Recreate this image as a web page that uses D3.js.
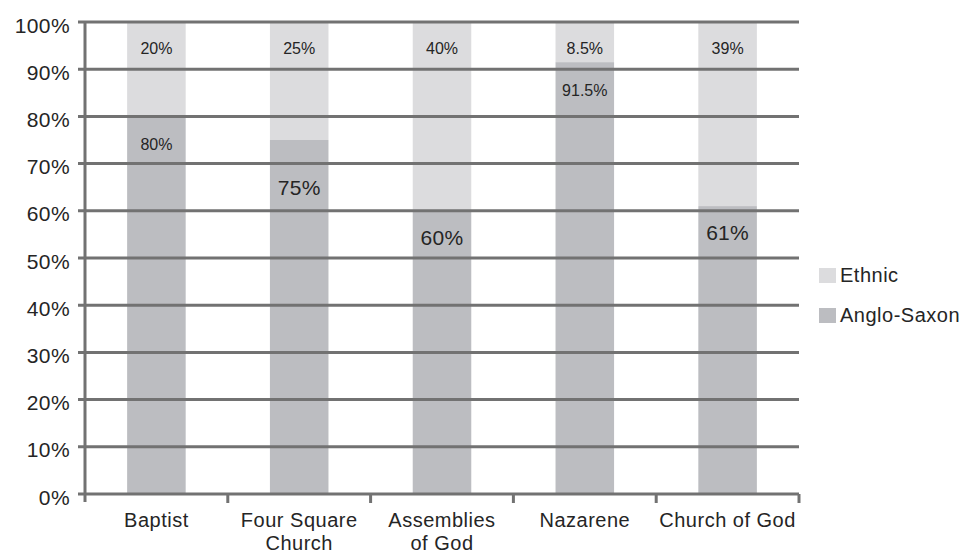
<!DOCTYPE html>
<html>
<head>
<meta charset="utf-8">
<script src="https://cdn.jsdelivr.net/npm/d3@7"></script>
<style>
  body { margin: 0; background: #fff; }
  svg text { font-family: "Liberation Sans", Arial, sans-serif; fill: #252525; }
</style>
</head>
<body>
<script>
const categories = ['Baptist', 'Four Square\nChurch', 'Assemblies\nof God', 'Nazarene', 'Church of God'];
const angloSaxon = [80, 75, 60, 91.5, 61];
const ethnic = [20, 25, 40, 8.5, 39];
const angloLabels = ['80%', '75%', '60%', '91.5%', '61%'];
const ethnicLabels = ['20%', '25%', '40%', '8.5%', '39%'];
const yTicks = [0, 10, 20, 30, 40, 50, 60, 70, 80, 90, 100];
const seriesNames = ['Ethnic', 'Anglo-Saxon'];

const width = 961;
const height = 554;
const plotLeft = 85, plotRight = 799, plotTop = 22, plotBottom = 494;
const colors = { 'Ethnic': '#dcdcde', 'Anglo-Saxon': '#bcbdc1' };
const gridColor = '#727272';

const svg = d3.select('body')
  .append('svg')
  .attr('width', width)
  .attr('height', height);

const xScale = d3.scaleBand()
  .domain(categories)
  .range([plotLeft, plotRight])
  .paddingInner(0.59)
  .paddingOuter(0.295);

const yScale = d3.scaleLinear()
  .domain([0, 100])
  .range([plotBottom, plotTop]);

// stacked bars
const rows = categories.map((c, i) => ({ cat: c, anglo: angloSaxon[i], ethnic: ethnic[i] }));
const stack = d3.stack().keys(['anglo', 'ethnic'])(rows);

svg.append('g')
  .selectAll('g')
  .data(stack)
  .enter()
  .append('g')
  .attr('fill', (s) => s.key === 'anglo' ? colors['Anglo-Saxon'] : colors['Ethnic'])
  .selectAll('rect')
  .data((s) => s)
  .enter()
  .append('rect')
  .attr('x', (d) => xScale(d.data.cat))
  .attr('width', xScale.bandwidth())
  .attr('y', (d) => yScale(d[1]))
  .attr('height', (d) => yScale(d[0]) - yScale(d[1]));

// gridlines over the bars
svg.append('g')
  .selectAll('line')
  .data(yTicks)
  .enter()
  .append('line')
  .attr('x1', plotLeft - 7)
  .attr('x2', plotRight)
  .attr('y1', (t) => yScale(t))
  .attr('y2', (t) => yScale(t))
  .attr('stroke', gridColor)
  .attr('stroke-width', 3);

// y axis line
svg.append('line')
  .attr('x1', plotLeft).attr('x2', plotLeft)
  .attr('y1', plotTop).attr('y2', plotBottom + 8)
  .attr('stroke', gridColor)
  .attr('stroke-width', 3);

// y tick labels
svg.append('g')
  .selectAll('text')
  .data(yTicks)
  .enter()
  .append('text')
  .attr('x', plotLeft - 15)
  .attr('y', (t) => yScale(t))
  .attr('dy', '0.5em')
  .attr('text-anchor', 'end')
  .style('font-size', '21px')
  .style('letter-spacing', '0.4px')
  .text((t) => t + '%');

// x axis ticks at band boundaries
const step = xScale.step();
const boundaries = d3.range(categories.length + 1).map((i) => plotLeft + i * step);
svg.append('g')
  .selectAll('line')
  .data(boundaries.slice(1))
  .enter()
  .append('line')
  .attr('x1', (b) => b).attr('x2', (b) => b)
  .attr('y1', plotBottom).attr('y2', plotBottom + 9)
  .attr('stroke', gridColor)
  .attr('stroke-width', 3);

// category labels
const xLabels = svg.append('g')
  .selectAll('text')
  .data(categories)
  .enter()
  .append('text')
  .attr('x', (c) => xScale(c) + xScale.bandwidth() / 2)
  .attr('y', 527)
  .attr('text-anchor', 'middle')
  .style('font-size', '20px')
  .style('letter-spacing', '0.5px');

xLabels.selectAll('tspan')
  .data((c) => c.split('\n'))
  .enter()
  .append('tspan')
  .attr('x', function() { return d3.select(this.parentNode).attr('x'); })
  .attr('dy', (d, i) => i === 0 ? 0 : 23)
  .text((d) => d);

// value labels
const bigLabels = new Set(['75%', '60%', '61%']);
svg.append('g')
  .selectAll('text')
  .data(categories)
  .enter()
  .append('text')
  .attr('x', (c) => xScale(c) + xScale.bandwidth() / 2)
  .attr('y', (c, i) => yScale(angloSaxon[i]) + (angloLabels[i] === '75%' ? 55 : 34))
  .attr('text-anchor', 'middle')
  .style('font-size', (c, i) => bigLabels.has(angloLabels[i]) ? '21px' : '16px')
  .style('letter-spacing', (c, i) => bigLabels.has(angloLabels[i]) ? '0.3px' : '0px')
  .text((c, i) => angloLabels[i]);

svg.append('g')
  .selectAll('text')
  .data(categories)
  .enter()
  .append('text')
  .attr('x', (c) => xScale(c) + xScale.bandwidth() / 2)
  .attr('y', yScale(100) + 32)
  .attr('text-anchor', 'middle')
  .style('font-size', '16px')
  .text((c, i) => ethnicLabels[i]);

// legend
const legend = svg.append('g')
  .selectAll('g')
  .data(seriesNames)
  .enter()
  .append('g')
  .attr('transform', (d, i) => 'translate(819,' + (268 + i * 40) + ')');

legend.append('rect')
  .attr('width', 17)
  .attr('height', 15)
  .attr('fill', (d) => colors[d]);

legend.append('text')
  .attr('x', 21)
  .attr('y', 14)
  .style('font-size', '20px')
  .style('letter-spacing', '0.5px')
  .text((d) => d);
</script>
</body>
</html>
